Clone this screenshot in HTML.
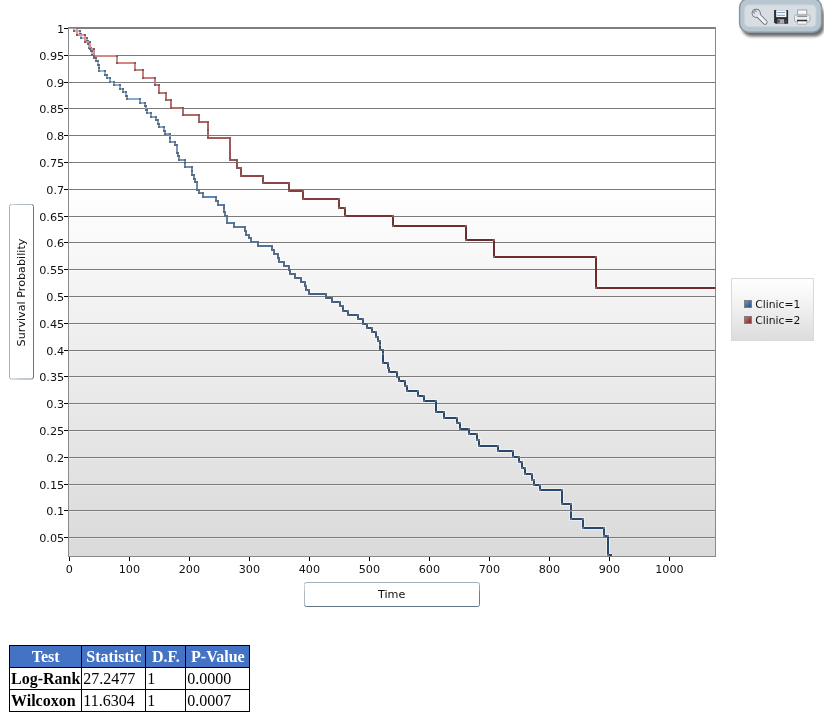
<!DOCTYPE html>
<html><head><meta charset="utf-8"><title>Survival Probability</title>
<style>
html,body{margin:0;padding:0;background:#fff;}
body{width:824px;height:714px;position:relative;overflow:hidden;font-family:"Liberation Serif",serif;}
table.t{position:absolute;left:9px;top:645px;border-collapse:collapse;font-family:"Liberation Serif",serif;font-size:16px;color:#000;}
table.t td,table.t th{border:1px solid #000;padding:1px;height:19px;line-height:19px;text-align:left;white-space:nowrap;}
table.t tr.h th{background:#4472c4;color:#fff;text-align:center;font-weight:bold;}
</style></head><body>
<svg width="824" height="640" viewBox="0 0 824 640" style="position:absolute;left:0;top:0">
<defs>
<linearGradient id="pbg" x1="0" y1="0" x2="0" y2="1">
<stop offset="0" stop-color="#ffffff"/><stop offset="0.30" stop-color="#ffffff"/><stop offset="0.58" stop-color="#efefef"/><stop offset="1" stop-color="#dadada"/>
</linearGradient>
<linearGradient id="gr" gradientUnits="userSpaceOnUse" x1="0" y1="28" x2="0" y2="288">
<stop offset="0" stop-color="rgb(230,152,152)"/><stop offset="0.78" stop-color="rgb(111,42,42)"/><stop offset="1" stop-color="rgb(110,41,41)"/>
</linearGradient>
<linearGradient id="gb" gradientUnits="userSpaceOnUse" x1="0" y1="28" x2="0" y2="556">
<stop offset="0" stop-color="rgb(158,199,240)"/><stop offset="0.63" stop-color="rgb(35,72,114)"/><stop offset="1" stop-color="rgb(36,72,114)"/>
</linearGradient>
<linearGradient id="gd" gradientUnits="userSpaceOnUse" x1="0" y1="28" x2="0" y2="556"><stop offset="0" stop-color="rgb(90,94,102)"/><stop offset="1" stop-color="rgb(120,122,128)"/></linearGradient>
<linearGradient id="gdr" gradientUnits="userSpaceOnUse" x1="0" y1="28" x2="0" y2="288"><stop offset="0" stop-color="rgb(102,86,86)"/><stop offset="1" stop-color="rgb(126,114,114)"/></linearGradient>
<linearGradient id="lbg" x1="0" y1="0" x2="0" y2="1">
<stop offset="0" stop-color="#ffffff"/><stop offset="0.3" stop-color="#f6f6f6"/><stop offset="1" stop-color="#dcdcdc"/>
</linearGradient>
<linearGradient id="mb" x1="0" y1="0" x2="1" y2="1"><stop offset="0" stop-color="#6d9bd0"/><stop offset="1" stop-color="#23487a"/></linearGradient>
<linearGradient id="mr" x1="0" y1="0" x2="1" y2="1"><stop offset="0" stop-color="#d07878"/><stop offset="1" stop-color="#7a2222"/></linearGradient>
<linearGradient id="tbh" x1="0" y1="0" x2="1" y2="0"><stop offset="0" stop-color="#a3aeb9"/><stop offset="0.375" stop-color="#8399a9"/><stop offset="0.375" stop-color="#718597"/><stop offset="1" stop-color="#617584"/></linearGradient>
<linearGradient id="tbb" x1="0" y1="0" x2="0" y2="1"><stop offset="0" stop-color="#a3aeb9"/><stop offset="0.375" stop-color="#8399a9"/><stop offset="0.375" stop-color="#718597"/><stop offset="1" stop-color="#617584"/></linearGradient>
<filter id="sh" x="-20%" y="-20%" width="150%" height="170%"><feGaussianBlur stdDeviation="1.8"/></filter>
<clipPath id="pc"><rect x="69" y="28.4" width="646.4" height="528"/></clipPath>
</defs>
<!-- plot area -->
<rect x="69" y="28" width="646" height="528" fill="url(#pbg)"/>
<g clip-path="url(#pc)" fill="none" stroke="#ffffff" stroke-opacity="0.45" stroke-width="4"><path d="M69,28 L74,28 L74,31 L80,31 L80,34 L81,34 L81,38 L87,38 L87,41 L88,41 L88,44 L89,44 L89,48 L91,48 L91,51 L92,51 L92,55 L94,55 L94,58 L96,58 L96,61 L98,61 L98,65 L99,65 L99,68 L99,68 L99,71 L105,71 L105,75 L107,75 L107,78 L110,78 L110,82 L114,82 L114,85 L120,85 L120,89 L123,89 L123,92 L126,92 L126,96 L127,96 L127,99 L140,99 L140,103 L145,103 L145,106 L146,106 L146,110 L147,110 L147,113 L151,113 L151,117 L156,117 L156,120 L158,120 L158,124 L159,124 L159,127 L164,127 L164,131 L165,131 L165,134 L170,134 L170,138 L170,138 L170,142 L175,142 L175,145 L177,145 L177,153 L178,153 L178,156 L179,156 L179,160 L185,160 L185,163 L185,163 L185,167 L192,167 L192,171 L192,171 L192,175 L194,175 L194,179 L195,179 L195,182 L197,182 L197,190 L199,190 L199,193 L203,193 L203,197 L216,197 L216,201 L218,201 L218,205 L224,205 L224,208 L224,208 L224,212 L225,212 L225,216 L227,216 L227,223 L234,223 L234,227 L245,227 L245,231 L246,231 L246,235 L249,235 L249,238 L251,238 L251,242 L258,242 L258,246 L272,246 L272,250 L274,250 L274,254 L278,254 L278,258 L279,258 L279,262 L284,262 L284,266 L289,266 L289,270 L290,270 L290,274 L295,274 L295,278 L301,278 L301,282 L305,282 L305,286 L306,286 L306,290 L309,290 L309,294 L326,294 L326,298 L332,298 L332,302 L340,302 L340,306 L343,306 L343,311 L348,311 L348,315 L358,315 L358,319 L363,319 L363,324 L367,324 L367,328 L372,328 L372,332 L376,332 L376,337 L378,337 L378,341 L380,341 L380,345 L380,345 L380,350 L383,350 L383,354 L383,354 L383,363 L388,363 L388,368 L389,368 L389,372 L397,372 L397,377 L399,377 L399,381 L405,381 L405,386 L407,386 L407,391 L418,391 L418,396 L424,396 L424,401 L436,401 L436,412 L444,412 L444,418 L457,418 L457,423 L460,423 L460,429 L469,429 L469,434 L477,434 L477,440 L479,440 L479,446 L498,446 L498,451 L513,451 L513,457 L519,457 L519,462 L522,462 L522,468 L525,468 L525,474 L532,474 L532,480 L534,480 L534,485 L540,485 L540,490 L562,490 L562,504 L571,504 L571,511 L571,511 L571,519 L583,519 L583,528 L604,528 L604,536 L608,536 L608,555 L612,555"/><path d="M69,28 L77,28 L77,35 L85,35 L85,42 L90,42 L90,49 L94,49 L94,56 L117,56 L117,63 L135,63 L135,70 L143,70 L143,78 L155,78 L155,85 L159,85 L159,93 L166,93 L166,100 L171,100 L171,108 L183,108 L183,115 L199,115 L199,122 L208,122 L208,130 L208,130 L208,138 L230,138 L230,160 L237,160 L237,168 L241,168 L241,176 L263,176 L263,183 L289,183 L289,191 L303,191 L303,199 L339,199 L339,208 L345,208 L345,216 L393,216 L393,226 L466,226 L466,240 L494,240 L494,257 L596,257 L596,288 L716,288"/></g>
<rect x="64" y="28" width="4" height="1" fill="#000"/><rect x="69" y="55" width="646" height="1" fill="#7b7b7b"/><rect x="69" y="56" width="646" height="1" fill="#ffffff" fill-opacity="0.35"/><rect x="64" y="55" width="4" height="1" fill="#000"/><rect x="69" y="82" width="646" height="1" fill="#7b7b7b"/><rect x="69" y="83" width="646" height="1" fill="#ffffff" fill-opacity="0.35"/><rect x="64" y="82" width="4" height="1" fill="#000"/><rect x="69" y="108" width="646" height="1" fill="#7b7b7b"/><rect x="69" y="109" width="646" height="1" fill="#ffffff" fill-opacity="0.35"/><rect x="64" y="108" width="4" height="1" fill="#000"/><rect x="69" y="135" width="646" height="1" fill="#7b7b7b"/><rect x="69" y="136" width="646" height="1" fill="#ffffff" fill-opacity="0.35"/><rect x="64" y="135" width="4" height="1" fill="#000"/><rect x="69" y="162" width="646" height="1" fill="#7b7b7b"/><rect x="69" y="163" width="646" height="1" fill="#ffffff" fill-opacity="0.35"/><rect x="64" y="162" width="4" height="1" fill="#000"/><rect x="69" y="189" width="646" height="1" fill="#7b7b7b"/><rect x="69" y="190" width="646" height="1" fill="#ffffff" fill-opacity="0.35"/><rect x="64" y="189" width="4" height="1" fill="#000"/><rect x="69" y="216" width="646" height="1" fill="#7b7b7b"/><rect x="69" y="217" width="646" height="1" fill="#ffffff" fill-opacity="0.35"/><rect x="64" y="216" width="4" height="1" fill="#000"/><rect x="69" y="242" width="646" height="1" fill="#7b7b7b"/><rect x="69" y="243" width="646" height="1" fill="#ffffff" fill-opacity="0.35"/><rect x="64" y="242" width="4" height="1" fill="#000"/><rect x="69" y="269" width="646" height="1" fill="#7b7b7b"/><rect x="69" y="270" width="646" height="1" fill="#ffffff" fill-opacity="0.35"/><rect x="64" y="269" width="4" height="1" fill="#000"/><rect x="69" y="296" width="646" height="1" fill="#7b7b7b"/><rect x="69" y="297" width="646" height="1" fill="#ffffff" fill-opacity="0.35"/><rect x="64" y="296" width="4" height="1" fill="#000"/><rect x="69" y="323" width="646" height="1" fill="#7b7b7b"/><rect x="69" y="324" width="646" height="1" fill="#ffffff" fill-opacity="0.35"/><rect x="64" y="323" width="4" height="1" fill="#000"/><rect x="69" y="350" width="646" height="1" fill="#7b7b7b"/><rect x="69" y="351" width="646" height="1" fill="#ffffff" fill-opacity="0.35"/><rect x="64" y="350" width="4" height="1" fill="#000"/><rect x="69" y="376" width="646" height="1" fill="#7b7b7b"/><rect x="69" y="377" width="646" height="1" fill="#ffffff" fill-opacity="0.35"/><rect x="64" y="376" width="4" height="1" fill="#000"/><rect x="69" y="403" width="646" height="1" fill="#7b7b7b"/><rect x="69" y="404" width="646" height="1" fill="#ffffff" fill-opacity="0.35"/><rect x="64" y="403" width="4" height="1" fill="#000"/><rect x="69" y="430" width="646" height="1" fill="#7b7b7b"/><rect x="69" y="431" width="646" height="1" fill="#ffffff" fill-opacity="0.35"/><rect x="64" y="430" width="4" height="1" fill="#000"/><rect x="69" y="457" width="646" height="1" fill="#7b7b7b"/><rect x="69" y="458" width="646" height="1" fill="#ffffff" fill-opacity="0.35"/><rect x="64" y="457" width="4" height="1" fill="#000"/><rect x="69" y="484" width="646" height="1" fill="#7b7b7b"/><rect x="69" y="485" width="646" height="1" fill="#ffffff" fill-opacity="0.35"/><rect x="64" y="484" width="4" height="1" fill="#000"/><rect x="69" y="510" width="646" height="1" fill="#7b7b7b"/><rect x="69" y="511" width="646" height="1" fill="#ffffff" fill-opacity="0.35"/><rect x="64" y="510" width="4" height="1" fill="#000"/><rect x="69" y="537" width="646" height="1" fill="#7b7b7b"/><rect x="69" y="538" width="646" height="1" fill="#ffffff" fill-opacity="0.35"/><rect x="64" y="537" width="4" height="1" fill="#000"/><rect x="69" y="557" width="1" height="4" fill="#000"/><rect x="129" y="557" width="1" height="4" fill="#000"/><rect x="189" y="557" width="1" height="4" fill="#000"/><rect x="249" y="557" width="1" height="4" fill="#000"/><rect x="309" y="557" width="1" height="4" fill="#000"/><rect x="369" y="557" width="1" height="4" fill="#000"/><rect x="429" y="557" width="1" height="4" fill="#000"/><rect x="489" y="557" width="1" height="4" fill="#000"/><rect x="549" y="557" width="1" height="4" fill="#000"/><rect x="609" y="557" width="1" height="4" fill="#000"/><rect x="669" y="557" width="1" height="4" fill="#000"/>
<rect x="68" y="27" width="648" height="2" fill="#7f7f7f"/>
<rect x="68" y="27" width="1" height="530" fill="#8a8a8a"/>
<rect x="715" y="27" width="1" height="530" fill="#8a8a8a"/>
<rect x="68" y="556" width="648" height="1" fill="#8a8a8a"/>
<g font-family="'DejaVu Sans','Liberation Sans',sans-serif" font-size="10.5" fill="#111"><text transform="translate(64.3,33.2) scale(1.075,1)" text-anchor="end">1</text><text transform="translate(64.3,60.2) scale(1.075,1)" text-anchor="end">0.95</text><text transform="translate(64.3,87.2) scale(1.075,1)" text-anchor="end">0.9</text><text transform="translate(64.3,113.2) scale(1.075,1)" text-anchor="end">0.85</text><text transform="translate(64.3,140.2) scale(1.075,1)" text-anchor="end">0.8</text><text transform="translate(64.3,167.2) scale(1.075,1)" text-anchor="end">0.75</text><text transform="translate(64.3,194.2) scale(1.075,1)" text-anchor="end">0.7</text><text transform="translate(64.3,221.2) scale(1.075,1)" text-anchor="end">0.65</text><text transform="translate(64.3,247.2) scale(1.075,1)" text-anchor="end">0.6</text><text transform="translate(64.3,274.2) scale(1.075,1)" text-anchor="end">0.55</text><text transform="translate(64.3,301.2) scale(1.075,1)" text-anchor="end">0.5</text><text transform="translate(64.3,328.2) scale(1.075,1)" text-anchor="end">0.45</text><text transform="translate(64.3,355.2) scale(1.075,1)" text-anchor="end">0.4</text><text transform="translate(64.3,381.2) scale(1.075,1)" text-anchor="end">0.35</text><text transform="translate(64.3,408.2) scale(1.075,1)" text-anchor="end">0.3</text><text transform="translate(64.3,435.2) scale(1.075,1)" text-anchor="end">0.25</text><text transform="translate(64.3,462.2) scale(1.075,1)" text-anchor="end">0.2</text><text transform="translate(64.3,489.2) scale(1.075,1)" text-anchor="end">0.15</text><text transform="translate(64.3,515.2) scale(1.075,1)" text-anchor="end">0.1</text><text transform="translate(64.3,542.2) scale(1.075,1)" text-anchor="end">0.05</text><text transform="translate(69.4,573) scale(1.065,1)" text-anchor="middle">0</text><text transform="translate(129.4,573) scale(1.065,1)" text-anchor="middle">100</text><text transform="translate(189.4,573) scale(1.065,1)" text-anchor="middle">200</text><text transform="translate(249.4,573) scale(1.065,1)" text-anchor="middle">300</text><text transform="translate(309.4,573) scale(1.065,1)" text-anchor="middle">400</text><text transform="translate(369.4,573) scale(1.065,1)" text-anchor="middle">500</text><text transform="translate(429.4,573) scale(1.065,1)" text-anchor="middle">600</text><text transform="translate(489.4,573) scale(1.065,1)" text-anchor="middle">700</text><text transform="translate(549.4,573) scale(1.065,1)" text-anchor="middle">800</text><text transform="translate(609.4,573) scale(1.065,1)" text-anchor="middle">900</text><text transform="translate(669.4,573) scale(1.065,1)" text-anchor="middle">1000</text></g>
<!-- curves -->
<g clip-path="url(#pc)" fill="none" stroke-linejoin="miter" stroke-linecap="butt">
<path d="M69,28 L74,28 L74,31 L80,31 L80,34 L81,34 L81,38 L87,38 L87,41 L88,41 L88,44 L89,44 L89,48 L91,48 L91,51 L92,51 L92,55 L94,55 L94,58 L96,58 L96,61 L98,61 L98,65 L99,65 L99,68 L99,68 L99,71 L105,71 L105,75 L107,75 L107,78 L110,78 L110,82 L114,82 L114,85 L120,85 L120,89 L123,89 L123,92 L126,92 L126,96 L127,96 L127,99 L140,99 L140,103 L145,103 L145,106 L146,106 L146,110 L147,110 L147,113 L151,113 L151,117 L156,117 L156,120 L158,120 L158,124 L159,124 L159,127 L164,127 L164,131 L165,131 L165,134 L170,134 L170,138 L170,138 L170,142 L175,142 L175,145 L177,145 L177,153 L178,153 L178,156 L179,156 L179,160 L185,160 L185,163 L185,163 L185,167 L192,167 L192,171 L192,171 L192,175 L194,175 L194,179 L195,179 L195,182 L197,182 L197,190 L199,190 L199,193 L203,193 L203,197 L216,197 L216,201 L218,201 L218,205 L224,205 L224,208 L224,208 L224,212 L225,212 L225,216 L227,216 L227,223 L234,223 L234,227 L245,227 L245,231 L246,231 L246,235 L249,235 L249,238 L251,238 L251,242 L258,242 L258,246 L272,246 L272,250 L274,250 L274,254 L278,254 L278,258 L279,258 L279,262 L284,262 L284,266 L289,266 L289,270 L290,270 L290,274 L295,274 L295,278 L301,278 L301,282 L305,282 L305,286 L306,286 L306,290 L309,290 L309,294 L326,294 L326,298 L332,298 L332,302 L340,302 L340,306 L343,306 L343,311 L348,311 L348,315 L358,315 L358,319 L363,319 L363,324 L367,324 L367,328 L372,328 L372,332 L376,332 L376,337 L378,337 L378,341 L380,341 L380,345 L380,345 L380,350 L383,350 L383,354 L383,354 L383,363 L388,363 L388,368 L389,368 L389,372 L397,372 L397,377 L399,377 L399,381 L405,381 L405,386 L407,386 L407,391 L418,391 L418,396 L424,396 L424,401 L436,401 L436,412 L444,412 L444,418 L457,418 L457,423 L460,423 L460,429 L469,429 L469,434 L477,434 L477,440 L479,440 L479,446 L498,446 L498,451 L513,451 L513,457 L519,457 L519,462 L522,462 L522,468 L525,468 L525,474 L532,474 L532,480 L534,480 L534,485 L540,485 L540,490 L562,490 L562,504 L571,504 L571,511 L571,511 L571,519 L583,519 L583,528 L604,528 L604,536 L608,536 L608,555 L612,555" stroke="url(#gb)" stroke-width="2"/>
<g fill="url(#gd)" fill-opacity="0.85" stroke="none"><rect x="73" y="27" width="2" height="2"/><rect x="73" y="30" width="2" height="2"/><rect x="79" y="30" width="2" height="2"/><rect x="79" y="33" width="2" height="2"/><rect x="80" y="33" width="2" height="2"/><rect x="80" y="37" width="2" height="2"/><rect x="86" y="37" width="2" height="2"/><rect x="86" y="40" width="2" height="2"/><rect x="87" y="40" width="2" height="2"/><rect x="87" y="43" width="2" height="2"/><rect x="88" y="43" width="2" height="2"/><rect x="88" y="47" width="2" height="2"/><rect x="90" y="47" width="2" height="2"/><rect x="90" y="50" width="2" height="2"/><rect x="91" y="50" width="2" height="2"/><rect x="91" y="54" width="2" height="2"/><rect x="93" y="54" width="2" height="2"/><rect x="93" y="57" width="2" height="2"/><rect x="95" y="57" width="2" height="2"/><rect x="95" y="60" width="2" height="2"/><rect x="97" y="60" width="2" height="2"/><rect x="97" y="64" width="2" height="2"/><rect x="98" y="64" width="2" height="2"/><rect x="98" y="67" width="2" height="2"/><rect x="98" y="67" width="2" height="2"/><rect x="98" y="70" width="2" height="2"/><rect x="104" y="70" width="2" height="2"/><rect x="104" y="74" width="2" height="2"/><rect x="106" y="74" width="2" height="2"/><rect x="106" y="77" width="2" height="2"/><rect x="109" y="77" width="2" height="2"/><rect x="109" y="81" width="2" height="2"/><rect x="113" y="81" width="2" height="2"/><rect x="113" y="84" width="2" height="2"/><rect x="119" y="84" width="2" height="2"/><rect x="119" y="88" width="2" height="2"/><rect x="122" y="88" width="2" height="2"/><rect x="122" y="91" width="2" height="2"/><rect x="125" y="91" width="2" height="2"/><rect x="125" y="95" width="2" height="2"/><rect x="126" y="95" width="2" height="2"/><rect x="126" y="98" width="2" height="2"/><rect x="139" y="98" width="2" height="2"/><rect x="139" y="102" width="2" height="2"/><rect x="144" y="102" width="2" height="2"/><rect x="144" y="105" width="2" height="2"/><rect x="145" y="105" width="2" height="2"/><rect x="145" y="109" width="2" height="2"/><rect x="146" y="109" width="2" height="2"/><rect x="146" y="112" width="2" height="2"/><rect x="150" y="112" width="2" height="2"/><rect x="150" y="116" width="2" height="2"/><rect x="155" y="116" width="2" height="2"/><rect x="155" y="119" width="2" height="2"/><rect x="157" y="119" width="2" height="2"/><rect x="157" y="123" width="2" height="2"/><rect x="158" y="123" width="2" height="2"/><rect x="158" y="126" width="2" height="2"/><rect x="163" y="126" width="2" height="2"/><rect x="163" y="130" width="2" height="2"/><rect x="164" y="130" width="2" height="2"/><rect x="164" y="133" width="2" height="2"/><rect x="169" y="133" width="2" height="2"/><rect x="169" y="137" width="2" height="2"/><rect x="169" y="137" width="2" height="2"/><rect x="169" y="141" width="2" height="2"/><rect x="174" y="141" width="2" height="2"/><rect x="174" y="144" width="2" height="2"/><rect x="176" y="144" width="2" height="2"/><rect x="176" y="152" width="2" height="2"/><rect x="177" y="152" width="2" height="2"/><rect x="177" y="155" width="2" height="2"/><rect x="178" y="155" width="2" height="2"/><rect x="178" y="159" width="2" height="2"/><rect x="184" y="159" width="2" height="2"/><rect x="184" y="162" width="2" height="2"/><rect x="184" y="162" width="2" height="2"/><rect x="184" y="166" width="2" height="2"/><rect x="191" y="166" width="2" height="2"/><rect x="191" y="170" width="2" height="2"/><rect x="191" y="170" width="2" height="2"/><rect x="191" y="174" width="2" height="2"/><rect x="193" y="174" width="2" height="2"/><rect x="193" y="178" width="2" height="2"/><rect x="194" y="178" width="2" height="2"/><rect x="194" y="181" width="2" height="2"/><rect x="196" y="181" width="2" height="2"/><rect x="196" y="189" width="2" height="2"/><rect x="198" y="189" width="2" height="2"/><rect x="198" y="192" width="2" height="2"/><rect x="202" y="192" width="2" height="2"/><rect x="202" y="196" width="2" height="2"/><rect x="215" y="196" width="2" height="2"/><rect x="215" y="200" width="2" height="2"/><rect x="217" y="200" width="2" height="2"/><rect x="217" y="204" width="2" height="2"/><rect x="223" y="204" width="2" height="2"/><rect x="223" y="207" width="2" height="2"/><rect x="223" y="207" width="2" height="2"/><rect x="223" y="211" width="2" height="2"/><rect x="224" y="211" width="2" height="2"/><rect x="224" y="215" width="2" height="2"/><rect x="226" y="215" width="2" height="2"/><rect x="226" y="222" width="2" height="2"/><rect x="233" y="222" width="2" height="2"/><rect x="233" y="226" width="2" height="2"/><rect x="244" y="226" width="2" height="2"/><rect x="244" y="230" width="2" height="2"/><rect x="245" y="230" width="2" height="2"/><rect x="245" y="234" width="2" height="2"/><rect x="248" y="234" width="2" height="2"/><rect x="248" y="237" width="2" height="2"/><rect x="250" y="237" width="2" height="2"/><rect x="250" y="241" width="2" height="2"/><rect x="257" y="241" width="2" height="2"/><rect x="257" y="245" width="2" height="2"/><rect x="271" y="245" width="2" height="2"/><rect x="271" y="249" width="2" height="2"/><rect x="273" y="249" width="2" height="2"/><rect x="273" y="253" width="2" height="2"/><rect x="277" y="253" width="2" height="2"/><rect x="277" y="257" width="2" height="2"/><rect x="278" y="257" width="2" height="2"/><rect x="278" y="261" width="2" height="2"/><rect x="283" y="261" width="2" height="2"/><rect x="283" y="265" width="2" height="2"/><rect x="288" y="265" width="2" height="2"/><rect x="288" y="269" width="2" height="2"/><rect x="289" y="269" width="2" height="2"/><rect x="289" y="273" width="2" height="2"/><rect x="294" y="273" width="2" height="2"/><rect x="294" y="277" width="2" height="2"/><rect x="300" y="277" width="2" height="2"/><rect x="300" y="281" width="2" height="2"/><rect x="304" y="281" width="2" height="2"/><rect x="304" y="285" width="2" height="2"/><rect x="305" y="285" width="2" height="2"/><rect x="305" y="289" width="2" height="2"/><rect x="308" y="289" width="2" height="2"/><rect x="308" y="293" width="2" height="2"/><rect x="325" y="293" width="2" height="2"/><rect x="325" y="297" width="2" height="2"/><rect x="331" y="297" width="2" height="2"/><rect x="331" y="301" width="2" height="2"/><rect x="339" y="301" width="2" height="2"/><rect x="339" y="305" width="2" height="2"/><rect x="342" y="305" width="2" height="2"/><rect x="342" y="310" width="2" height="2"/><rect x="347" y="310" width="2" height="2"/><rect x="347" y="314" width="2" height="2"/><rect x="357" y="314" width="2" height="2"/><rect x="357" y="318" width="2" height="2"/><rect x="362" y="318" width="2" height="2"/><rect x="362" y="323" width="2" height="2"/><rect x="366" y="323" width="2" height="2"/><rect x="366" y="327" width="2" height="2"/><rect x="371" y="327" width="2" height="2"/><rect x="371" y="331" width="2" height="2"/><rect x="375" y="331" width="2" height="2"/><rect x="375" y="336" width="2" height="2"/><rect x="377" y="336" width="2" height="2"/><rect x="377" y="340" width="2" height="2"/><rect x="379" y="340" width="2" height="2"/><rect x="379" y="344" width="2" height="2"/><rect x="379" y="344" width="2" height="2"/><rect x="379" y="349" width="2" height="2"/><rect x="382" y="349" width="2" height="2"/><rect x="382" y="353" width="2" height="2"/><rect x="382" y="353" width="2" height="2"/><rect x="382" y="362" width="2" height="2"/><rect x="387" y="362" width="2" height="2"/><rect x="387" y="367" width="2" height="2"/><rect x="388" y="367" width="2" height="2"/><rect x="388" y="371" width="2" height="2"/><rect x="396" y="371" width="2" height="2"/><rect x="396" y="376" width="2" height="2"/><rect x="398" y="376" width="2" height="2"/><rect x="398" y="380" width="2" height="2"/><rect x="404" y="380" width="2" height="2"/><rect x="404" y="385" width="2" height="2"/><rect x="406" y="385" width="2" height="2"/><rect x="406" y="390" width="2" height="2"/><rect x="417" y="390" width="2" height="2"/><rect x="417" y="395" width="2" height="2"/><rect x="423" y="395" width="2" height="2"/><rect x="423" y="400" width="2" height="2"/><rect x="435" y="400" width="2" height="2"/><rect x="435" y="411" width="2" height="2"/><rect x="443" y="411" width="2" height="2"/><rect x="443" y="417" width="2" height="2"/><rect x="456" y="417" width="2" height="2"/><rect x="456" y="422" width="2" height="2"/><rect x="459" y="422" width="2" height="2"/><rect x="459" y="428" width="2" height="2"/><rect x="468" y="428" width="2" height="2"/><rect x="468" y="433" width="2" height="2"/><rect x="476" y="433" width="2" height="2"/><rect x="476" y="439" width="2" height="2"/><rect x="478" y="439" width="2" height="2"/><rect x="478" y="445" width="2" height="2"/><rect x="497" y="445" width="2" height="2"/><rect x="497" y="450" width="2" height="2"/><rect x="512" y="450" width="2" height="2"/><rect x="512" y="456" width="2" height="2"/><rect x="518" y="456" width="2" height="2"/><rect x="518" y="461" width="2" height="2"/><rect x="521" y="461" width="2" height="2"/><rect x="521" y="467" width="2" height="2"/><rect x="524" y="467" width="2" height="2"/><rect x="524" y="473" width="2" height="2"/><rect x="531" y="473" width="2" height="2"/><rect x="531" y="479" width="2" height="2"/><rect x="533" y="479" width="2" height="2"/><rect x="533" y="484" width="2" height="2"/><rect x="539" y="484" width="2" height="2"/><rect x="539" y="489" width="2" height="2"/><rect x="561" y="489" width="2" height="2"/><rect x="561" y="503" width="2" height="2"/><rect x="570" y="503" width="2" height="2"/><rect x="570" y="510" width="2" height="2"/><rect x="570" y="510" width="2" height="2"/><rect x="570" y="518" width="2" height="2"/><rect x="582" y="518" width="2" height="2"/><rect x="582" y="527" width="2" height="2"/><rect x="603" y="527" width="2" height="2"/><rect x="603" y="535" width="2" height="2"/><rect x="607" y="535" width="2" height="2"/><rect x="607" y="554" width="2" height="2"/></g>
<path d="M69,28 L77,28 L77,35 L85,35 L85,42 L90,42 L90,49 L94,49 L94,56 L117,56 L117,63 L135,63 L135,70 L143,70 L143,78 L155,78 L155,85 L159,85 L159,93 L166,93 L166,100 L171,100 L171,108 L183,108 L183,115 L199,115 L199,122 L208,122 L208,130 L208,130 L208,138 L230,138 L230,160 L237,160 L237,168 L241,168 L241,176 L263,176 L263,183 L289,183 L289,191 L303,191 L303,199 L339,199 L339,208 L345,208 L345,216 L393,216 L393,226 L466,226 L466,240 L494,240 L494,257 L596,257 L596,288 L716,288" stroke="url(#gr)" stroke-width="2"/>
<g fill="url(#gdr)" fill-opacity="0.85" stroke="none"><rect x="76" y="27" width="2" height="2"/><rect x="76" y="34" width="2" height="2"/><rect x="84" y="34" width="2" height="2"/><rect x="84" y="41" width="2" height="2"/><rect x="89" y="41" width="2" height="2"/><rect x="89" y="48" width="2" height="2"/><rect x="93" y="48" width="2" height="2"/><rect x="93" y="55" width="2" height="2"/><rect x="116" y="55" width="2" height="2"/><rect x="116" y="62" width="2" height="2"/><rect x="134" y="62" width="2" height="2"/><rect x="134" y="69" width="2" height="2"/><rect x="142" y="69" width="2" height="2"/><rect x="142" y="77" width="2" height="2"/><rect x="154" y="77" width="2" height="2"/><rect x="154" y="84" width="2" height="2"/><rect x="158" y="84" width="2" height="2"/><rect x="158" y="92" width="2" height="2"/><rect x="165" y="92" width="2" height="2"/><rect x="165" y="99" width="2" height="2"/><rect x="170" y="99" width="2" height="2"/><rect x="170" y="107" width="2" height="2"/><rect x="182" y="107" width="2" height="2"/><rect x="182" y="114" width="2" height="2"/><rect x="198" y="114" width="2" height="2"/><rect x="198" y="121" width="2" height="2"/><rect x="207" y="121" width="2" height="2"/><rect x="207" y="129" width="2" height="2"/><rect x="207" y="129" width="2" height="2"/><rect x="207" y="137" width="2" height="2"/><rect x="229" y="137" width="2" height="2"/><rect x="229" y="159" width="2" height="2"/><rect x="236" y="159" width="2" height="2"/><rect x="236" y="167" width="2" height="2"/><rect x="240" y="167" width="2" height="2"/><rect x="240" y="175" width="2" height="2"/><rect x="262" y="175" width="2" height="2"/><rect x="262" y="182" width="2" height="2"/><rect x="288" y="182" width="2" height="2"/><rect x="288" y="190" width="2" height="2"/><rect x="302" y="190" width="2" height="2"/><rect x="302" y="198" width="2" height="2"/><rect x="338" y="198" width="2" height="2"/><rect x="338" y="207" width="2" height="2"/><rect x="344" y="207" width="2" height="2"/><rect x="344" y="215" width="2" height="2"/><rect x="392" y="215" width="2" height="2"/><rect x="392" y="225" width="2" height="2"/><rect x="465" y="225" width="2" height="2"/><rect x="465" y="239" width="2" height="2"/><rect x="493" y="239" width="2" height="2"/><rect x="493" y="256" width="2" height="2"/><rect x="595" y="256" width="2" height="2"/><rect x="595" y="287" width="2" height="2"/></g>
</g>
<!-- axis titles -->
<rect x="9.5" y="204.5" width="24" height="174.5" rx="2" ry="2" fill="#fff" stroke="url(#tbh)"/><rect x="11" y="204" width="21" height="1" fill="#fff" fill-opacity="0.45"/><rect x="11" y="378.5" width="21" height="1" fill="#fff" fill-opacity="0.4"/>
<text transform="translate(25.0,292.5) rotate(-90)" text-anchor="middle" font-family="'DejaVu Sans','Liberation Sans',sans-serif" font-size="11.2" fill="#111">Survival Probability</text>
<rect x="304.5" y="582.5" width="175" height="24" rx="2" ry="2" fill="#fff" stroke="url(#tbb)"/><rect x="304" y="584" width="1" height="21" fill="#fff" fill-opacity="0.45"/>
<text x="391.6" y="598" text-anchor="middle" font-family="'DejaVu Sans','Liberation Sans',sans-serif" font-size="11.2" fill="#111">Time</text>
<!-- legend -->
<rect x="731.5" y="278.5" width="82" height="62" fill="url(#lbg)" stroke="#d9d9d9"/>
<rect x="744.5" y="300.5" width="7" height="7" fill="url(#mb)" stroke="#7d7d7d"/>
<rect x="744.5" y="316.5" width="7" height="7" fill="url(#mr)" stroke="#7d7d7d"/>
<g font-family="'DejaVu Sans','Liberation Sans',sans-serif" font-size="10.75" fill="#111">
<text x="755.3" y="308">Clinic=1</text><text x="755.3" y="324">Clinic=2</text></g>
<!-- toolbar -->
<g>
<rect x="742" y="5.5" width="82" height="31" rx="9" ry="9" fill="#000" fill-opacity="0.58" filter="url(#sh)"/>
<rect x="739.6" y="-1.4" width="82" height="33.6" rx="9" ry="9" fill="#b8c6d0" stroke="#8b98a2" stroke-width="1.5"/>
<rect x="744.5" y="4.8" width="71.5" height="22" rx="4.5" ry="4.5" fill="#d6dde3" stroke="#c6d0d8" stroke-width="0.8"/>
<!-- wrench -->
<clipPath id="wc"><circle cx="756.2" cy="13.3" r="4.55"/></clipPath>
<g stroke-linecap="round" fill="none">
<line x1="757.6" y1="14.7" x2="765.0" y2="22.2" stroke="#6a6f75" stroke-width="4.8"/>
<circle cx="756.2" cy="13.3" r="4.55" fill="#6a6f75"/>
<line x1="757.6" y1="14.7" x2="765.0" y2="22.2" stroke="#f6f4fb" stroke-width="3.2"/>
<circle cx="756.2" cy="13.3" r="3.65" fill="#e2dff0"/>
<g clip-path="url(#wc)">
<line x1="756.0" y1="13.1" x2="751.0" y2="8.1" stroke="#7b8087" stroke-width="3.0" stroke-linecap="butt"/>
<line x1="755.4" y1="12.5" x2="751.0" y2="8.1" stroke="#b4bac4" stroke-width="1.2" stroke-linecap="butt"/>
</g>
<circle cx="755.6" cy="12.7" r="0.95" fill="#f6f6fa"/>
</g>
<!-- floppy -->
<g>
<path d="M774.1,9.9 H788.1 V23.7 H775.6 L774.1,22.2 Z" fill="#2c2c31"/>
<rect x="776.2" y="10.2" width="10.2" height="6.9" fill="#f7f9fc"/>
<rect x="777.2" y="12.0" width="7.8" height="1" fill="#7f9fc6"/>
<rect x="777.2" y="14.8" width="7.8" height="1" fill="#7f9fc6"/>
<rect x="777.6" y="19.2" width="6.6" height="4.5" fill="#a9abaf"/>
<rect x="778.3" y="20.1" width="1.3" height="2.5" fill="#2c2c31"/>
<rect x="785.6" y="20.3" width="1" height="2" fill="#6c6c70"/>
</g>
<!-- printer -->
<g>
<rect x="797.7" y="10.0" width="9.1" height="6.4" fill="#fafafa" stroke="#8d9196" stroke-width="0.8"/>
<rect x="798.3" y="13.6" width="7.9" height="2.4" fill="#d4d6d8"/>
<rect x="794.5" y="14.9" width="15.4" height="6.9" rx="1.6" fill="#eceef0" stroke="#9a9fa4" stroke-width="0.8"/>
<rect x="797.2" y="15.6" width="10" height="1.3" fill="#85898d"/>
<rect x="797.0" y="19.8" width="10.1" height="1.5" fill="#111"/>
<rect x="797.5" y="21.2" width="9.2" height="3.0" rx="0.6" fill="#fbfbfb" stroke="#9a9fa4" stroke-width="0.8"/>
</g>
</g>
</svg>
<table class="t">
<tr class="h"><th style="width:68px">Test</th><th style="width:61px">Statistic</th><th style="width:37px">D.F.</th><th style="width:61px">P-Value</th></tr>
<tr><th>Log-Rank</th><td>27.2477</td><td>1</td><td>0.0000</td></tr>
<tr><th>Wilcoxon</th><td>11.6304</td><td>1</td><td>0.0007</td></tr>
</table>
</body></html>
